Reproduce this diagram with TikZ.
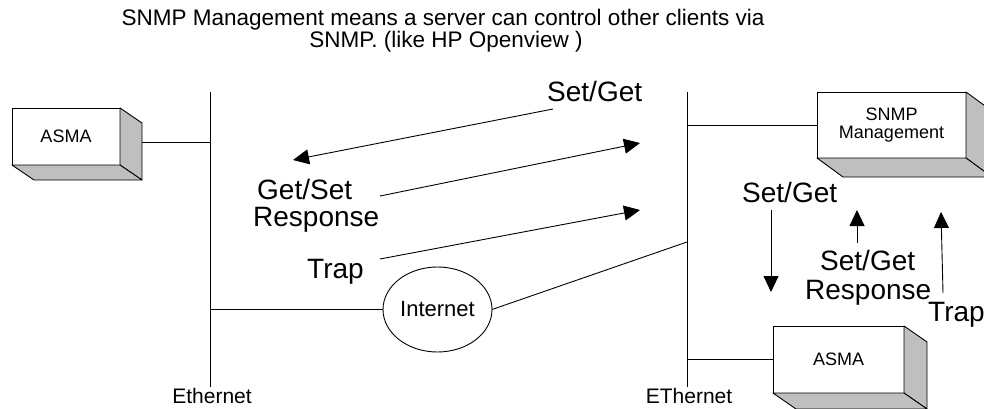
\documentclass[tikz,border=0pt]{standalone}
\usepackage{fontspec}
\setmainfont{Liberation Sans}
\usetikzlibrary{arrows.meta,shapes.geometric}

% side and bottom faces of a raised box: #1 node, (#2,#3) depth offset
\newcommand\boxdepth[3]{%
  \filldraw[face] (#1.north east) -- ([shift={(#2,#3)}]#1.north east)
    -- ([shift={(#2,#3)}]#1.south east) -- (#1.south east) -- cycle;
  \filldraw[face] (#1.south west) -- ([shift={(#2,#3)}]#1.south west)
    -- ([shift={(#2,#3)}]#1.south east) -- (#1.south east) -- cycle;
}

\tikzset{
  face/.style={fill=black!25, draw=black, line width=0.9pt, line join=round},
  frontbox/.style={draw=black, fill=white, line width=0.9pt, inner sep=0pt,
    outer sep=0pt, align=center, font=\fontsize{18}{20}\selectfont},
  wire/.style={draw=black, line width=0.9pt},
  msg/.style={draw=black, line width=0.9pt,
    -{Triangle[length=16pt,width=15pt]}},
  lbl/.style={inner sep=0pt, anchor=base west, text height=18pt, text depth=3pt,
    font=\fontsize{28}{30}\selectfont},
  titletext/.style={inner sep=0pt, anchor=base, font=\fontsize{22.5}{24}\selectfont},
  ethtext/.style={inner sep=0pt, anchor=base, font=\fontsize{21}{23}\selectfont},
}

\begin{document}
\begin{tikzpicture}[x=1pt, y=-1pt]
\useasboundingbox (0,0) rectangle (984,409);

% heading
\node[titletext] (t1) at (443,26) {SNMP Management means a server can control other clients via};
\node[titletext] (t2) at (446,48) {SNMP. (like HP Openview )};

% the two Ethernet segments
\coordinate (eLtop) at (210,92);
\coordinate (eLbot) at (210,387);
\coordinate (eRtop) at (687,92);
\coordinate (eRbot) at (687,387);
\draw[wire] (eLtop) -- (eLbot);
\draw[wire] (eRtop) -- (eRbot);
\node[ethtext] (ethL) at (212,403) {Ethernet};
\node[ethtext] (ethR) at (689,403) {EThernet};

% stations
\node[frontbox, minimum width=108pt, minimum height=57pt] (asmaL) at (66,136.5) {ASMA};
\boxdepth{asmaL}{22}{15}
\node[frontbox, minimum width=149pt, minimum height=66pt] (snmp) at (891.5,125) {SNMP\\[-2pt]Management};
\boxdepth{snmp}{26}{19}
\node[frontbox, minimum width=131pt, minimum height=67pt] (asmaB) at (838.5,359.5) {ASMA};
\boxdepth{asmaB}{23}{16}

\node[ellipse, draw=black, line width=0.9pt, minimum width=109pt, minimum height=85pt,
  inner sep=0pt, outer sep=0pt, font=\fontsize{22}{24}\selectfont] (inet) at (437.5,309.5) {Internet};

% taps onto the segments
\coordinate (asmaLtap) at (142,142);
\draw[wire] (asmaLtap) -- (asmaLtap -| eLtop);
\draw[wire] (snmp.west) -- (snmp.west -| eRtop);
\draw[wire] (asmaB.west) -- (asmaB.west -| eRtop);
\draw[wire] (inet.west) -- (inet.west -| eLtop);
\coordinate (inetR) at (687,242);
\draw[wire] (inet.east) -- (inetR);

% SNMP messages across the network
\coordinate (m1s) at (553,109);  \coordinate (m1e) at (293,160);
\coordinate (m2s) at (380,196);  \coordinate (m2e) at (640,143);
\coordinate (m3s) at (380,259);  \coordinate (m3e) at (640,210);
\draw[msg] (m1s) -- (m1e);
\draw[msg] (m2s) -- (m2e);
\draw[msg] (m3s) -- (m3e);
\node[lbl] (l1) at (547,102) {Set/Get};
\node[lbl] (l2) at (257,199) {Get/Set};
\node[lbl] (l3) at (253,226) {Response};
\node[lbl] (l4) at (307,278) {Trap};

% messages between manager and local ASMA
\coordinate (m4s) at (771,210);  \coordinate (m4e) at (771,292);
\coordinate (m5s) at (857,243);  \coordinate (m5e) at (857,210);
\coordinate (m6s) at (943,293);  \coordinate (m6e) at (941,212);
\draw[msg] (m4s) -- (m4e);
\draw[msg] (m5s) -- (m5e);
\draw[msg] (m6s) -- (m6e);
\node[lbl] (l5) at (742,202) {Set/Get};
\node[lbl] (l6) at (820,270) {Set/Get};
\node[lbl] (l7) at (805,299) {Response};
\node[lbl] (l8) at (928,321) {Trap};
\end{tikzpicture}
\end{document}
